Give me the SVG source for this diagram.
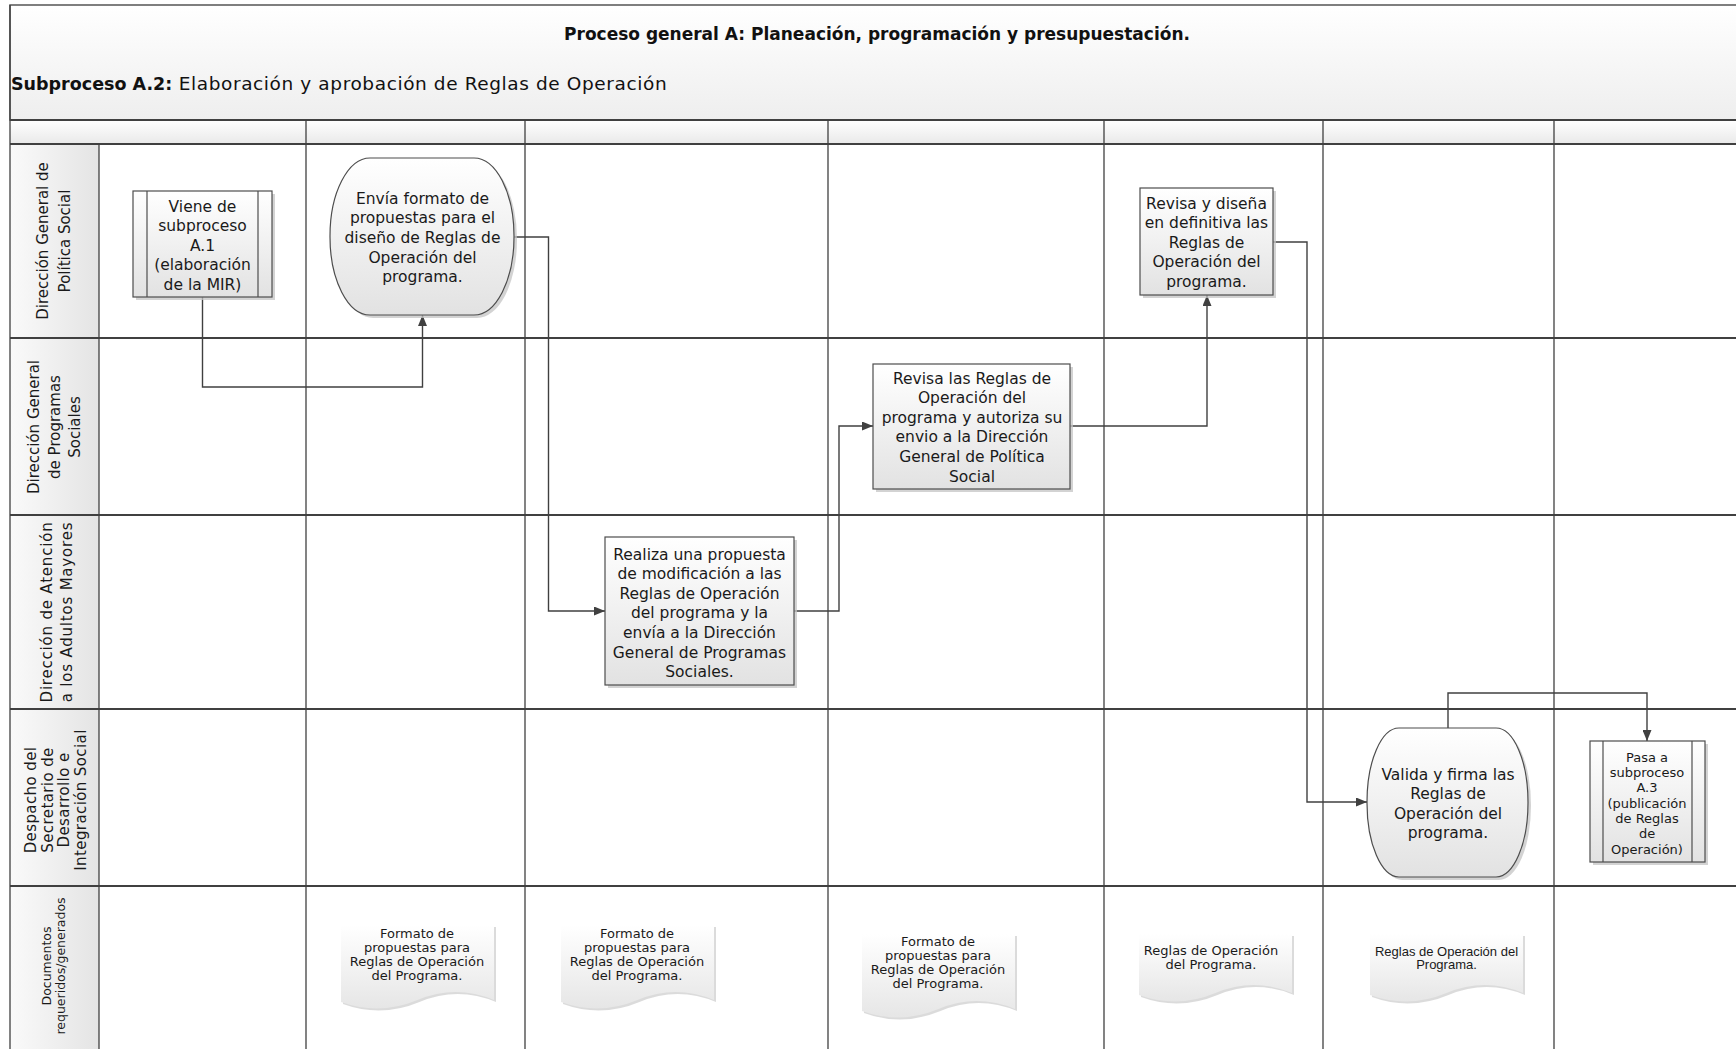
<svg xmlns="http://www.w3.org/2000/svg" width="1736" height="1049" viewBox="0 0 1736 1049">
<defs>
<linearGradient id="gHead" x1="0" y1="0" x2="0" y2="1"><stop offset="0" stop-color="#ffffff"/><stop offset="1" stop-color="#eeeeee"/></linearGradient>
<linearGradient id="gRow" x1="0" y1="0" x2="0" y2="1"><stop offset="0" stop-color="#ffffff"/><stop offset="1" stop-color="#e9e9e9"/></linearGradient>
<linearGradient id="gLab" x1="0" y1="0" x2="1" y2="0"><stop offset="0" stop-color="#fafafa"/><stop offset="1" stop-color="#e4e4e4"/></linearGradient>
<linearGradient id="gNode" x1="0" y1="0" x2="0" y2="1"><stop offset="0" stop-color="#ffffff"/><stop offset="1" stop-color="#e2e2e2"/></linearGradient>
<linearGradient id="gDoc" x1="0" y1="0" x2="0" y2="1"><stop offset="0" stop-color="#ffffff"/><stop offset="1" stop-color="#e6e6e6"/></linearGradient>
<marker id="arr" markerUnits="userSpaceOnUse" markerWidth="11" markerHeight="9" refX="11" refY="4.5" orient="auto"><path d="M0,0 L11,4.5 L0,9 z" fill="#404040"/></marker>
</defs>
<style>
.lane{stroke:#404040;stroke-width:2.2;fill:none}
.col{stroke:#404040;stroke-width:1.3;fill:none}
.box{fill:url(#gNode);stroke:#4d4d4d;stroke-width:1.2}
.shd{fill:#c4c4c4;opacity:.75}
.doc{fill:url(#gDoc)}
.dshd{fill:#d2d2d2;opacity:.8}
.conn{fill:none;stroke:#404040;stroke-width:1.4}
.t{font-family:"DejaVu Sans",sans-serif;font-size:15.5px;fill:#1a1a1a;text-anchor:middle}
.ts{font-family:"DejaVu Sans",sans-serif;font-size:13px;fill:#1a1a1a;text-anchor:middle}
.td{font-family:"DejaVu Sans",sans-serif;font-size:13px;fill:#1a1a1a;text-anchor:middle}
.ta{font-family:"Liberation Sans",Arial,sans-serif;font-size:13px;fill:#1a1a1a;text-anchor:middle}
.tl{font-family:"DejaVu Sans",sans-serif;font-size:15px;fill:#1a1a1a;text-anchor:middle}
.tl2{font-family:"DejaVu Sans",sans-serif;font-size:12.5px;fill:#1a1a1a;text-anchor:middle}
</style>
<rect width="1736" height="1049" fill="#ffffff"/>
<g id="frame">
<rect x="10" y="5" width="1740" height="115" fill="url(#gHead)" stroke="#555555" stroke-width="1.5"/>
<rect x="10" y="120" width="1740" height="24" fill="url(#gRow)"/>
<rect x="10" y="144" width="89" height="910" fill="url(#gLab)"/>
<line class="lane" x1="10" y1="120" x2="1736" y2="120"/>
<line class="lane" x1="10" y1="144" x2="1736" y2="144"/>
<line class="lane" x1="10" y1="338" x2="1736" y2="338"/>
<line class="lane" x1="10" y1="515" x2="1736" y2="515"/>
<line class="lane" x1="10" y1="709" x2="1736" y2="709"/>
<line class="lane" x1="10" y1="886" x2="1736" y2="886"/>
<line class="col" x1="10" y1="5" x2="10" y2="1049" stroke-width="1.5"/>
<line class="col" x1="99" y1="144" x2="99" y2="1049"/>
<line class="col" x1="306" y1="120" x2="306" y2="1049"/>
<line class="col" x1="525" y1="120" x2="525" y2="1049"/>
<line class="col" x1="828" y1="120" x2="828" y2="1049"/>
<line class="col" x1="1104" y1="120" x2="1104" y2="1049"/>
<line class="col" x1="1323" y1="120" x2="1323" y2="1049"/>
<line class="col" x1="1554" y1="120" x2="1554" y2="1049"/>
<text x="877" y="40" font-family="DejaVu Sans, sans-serif" font-size="17" font-weight="bold" fill="#111" text-anchor="middle">Proceso general A: Planeación, programación y presupuestación.</text>
<text x="11" y="90" font-family="DejaVu Sans, sans-serif" font-size="17.5" fill="#111"><tspan font-weight="bold">Subproceso A.2:</tspan><tspan font-size="18.5" letter-spacing="0.6"> Elaboración y aprobación de Reglas de Operación</tspan></text>
</g>
<g id="lane-labels">
<text class="tl" transform="translate(0,241) rotate(-90)"><tspan x="0" y="48">Dirección General de</tspan><tspan x="0" y="70">Política Social</tspan></text>
<text class="tl" transform="translate(0,427) rotate(-90)"><tspan x="0" y="39">Dirección General</tspan><tspan x="0" y="60">de Programas</tspan><tspan x="0" y="80">Sociales</tspan></text>
<text class="tl" letter-spacing="0.8" transform="translate(0,612) rotate(-90)"><tspan x="0" y="52">Dirección de Atención</tspan><tspan x="0" y="72">a los Adultos Mayores</tspan></text>
<text class="tl" letter-spacing="0.4" transform="translate(0,800) rotate(-90)"><tspan x="0" y="36">Despacho del</tspan><tspan x="0" y="53">Secretario de</tspan><tspan x="0" y="69">Desarrollo e</tspan><tspan x="0" y="86">Integración Social</tspan></text>
<text class="tl2" transform="translate(0,966) rotate(-90)"><tspan x="0" y="50.5">Documentos</tspan><tspan x="0" y="64.5">requeridos/generados</tspan></text>
</g>
<g id="connectors">
<path class="conn" d="M202.5,297 V387 H422.5 V315" marker-end="url(#arr)"/>
<path class="conn" d="M514,237 H548.5 V611 H605" marker-end="url(#arr)"/>
<path class="conn" d="M794,611 H839 V426 H873" marker-end="url(#arr)"/>
<path class="conn" d="M1070,426 H1207 V295" marker-end="url(#arr)"/>
<path class="conn" d="M1273,242 H1307 V802 H1367" marker-end="url(#arr)"/>
<path class="conn" d="M1448,728 V693 H1647 V741" marker-end="url(#arr)"/>
</g>
<g id="n1">
<rect class="shd" x="136" y="194" width="139" height="106"/>
<rect class="box" x="133" y="191" width="139" height="106"/>
<line x1="147" y1="191" x2="147" y2="297" stroke="#4d4d4d" stroke-width="1.2"/>
<line x1="258" y1="191" x2="258" y2="297" stroke="#4d4d4d" stroke-width="1.2"/>
<text class="t"><tspan x="202.5" y="211.5">Viene de</tspan><tspan x="202.5" dy="19.5">subproceso</tspan><tspan x="202.5" dy="19.5">A.1</tspan><tspan x="202.5" dy="19.5">(elaboración</tspan><tspan x="202.5" dy="19.5">de la MIR)</tspan></text>
</g>
<g id="n2">
<rect class="shd" x="333" y="161" width="184" height="157" rx="40" ry="78"/>
<rect class="box" x="330" y="158" width="184" height="157" rx="40" ry="78"/>
<text class="t"><tspan x="422.5" y="203.5">Envía formato de</tspan><tspan x="422.5" dy="19.7">propuestas para el</tspan><tspan x="422.5" dy="19.7">diseño de Reglas de</tspan><tspan x="422.5" dy="19.7">Operación del</tspan><tspan x="422.5" dy="19.7">programa.</tspan></text>
</g>
<g id="n3">
<rect class="shd" x="608" y="540" width="189" height="148"/>
<rect class="box" x="605" y="537" width="189" height="148"/>
<text class="t"><tspan x="699.5" y="559.5">Realiza una propuesta</tspan><tspan x="699.5" dy="19.6">de modificación a las</tspan><tspan x="699.5" dy="19.6">Reglas de Operación</tspan><tspan x="699.5" dy="19.6">del programa y la</tspan><tspan x="699.5" dy="19.6">envía a la  Dirección</tspan><tspan x="699.5" dy="19.6">General de Programas</tspan><tspan x="699.5" dy="19.6">Sociales.</tspan></text>
</g>
<g id="n4">
<rect class="shd" x="876" y="367" width="197" height="125"/>
<rect class="box" x="873" y="364" width="197" height="125"/>
<text class="t"><tspan x="972" y="383.5">Revisa las Reglas de</tspan><tspan x="972" dy="19.6">Operación del</tspan><tspan x="972" dy="19.6">programa y autoriza su</tspan><tspan x="972" dy="19.6">envio a la Dirección</tspan><tspan x="972" dy="19.6">General de Política</tspan><tspan x="972" dy="19.6">Social</tspan></text>
</g>
<g id="n5">
<rect class="shd" x="1143" y="191" width="133" height="107"/>
<rect class="box" x="1140" y="188" width="133" height="107"/>
<text class="t"><tspan x="1206.5" y="208.5">Revisa y diseña</tspan><tspan x="1206.5" dy="19.5">en definitiva las</tspan><tspan x="1206.5" dy="19.5">Reglas de</tspan><tspan x="1206.5" dy="19.5">Operación del</tspan><tspan x="1206.5" dy="19.5">programa.</tspan></text>
</g>
<g id="n6">
<rect class="shd" x="1370" y="731" width="161" height="149" rx="32" ry="74"/>
<rect class="box" x="1367" y="728" width="161" height="149" rx="32" ry="74"/>
<text class="t"><tspan x="1448" y="779.5">Valida y firma las</tspan><tspan x="1448" dy="19.6">Reglas de</tspan><tspan x="1448" dy="19.6">Operación del</tspan><tspan x="1448" dy="19.6">programa.</tspan></text>
</g>
<g id="n7">
<rect class="shd" x="1593" y="744" width="115" height="121"/>
<rect class="box" x="1590" y="741" width="115" height="121"/>
<line x1="1603" y1="741" x2="1603" y2="862" stroke="#4d4d4d" stroke-width="1.2"/>
<line x1="1692" y1="741" x2="1692" y2="862" stroke="#4d4d4d" stroke-width="1.2"/>
<text class="ts"><tspan x="1647" y="761.7">Pasa a</tspan><tspan x="1647" dy="15.3">subproceso</tspan><tspan x="1647" dy="15.3">A.3</tspan><tspan x="1647" dy="15.3">(publicación</tspan><tspan x="1647" dy="15.3">de Reglas</tspan><tspan x="1647" dy="15.3">de</tspan><tspan x="1647" dy="15.3">Operación)</tspan></text>
</g>
<g id="d1">
<path class="dshd" d="M343,927 H496 V1002 Q457.75,986 419.5,1002 T343,1004 Z"/>
<path class="doc" d="M341,925 H494 V1000 Q455.75,984 417.5,1000 T341,1002 Z"/>
<text class="td"><tspan x="417" y="937.5">Formato de</tspan><tspan x="417" dy="14">propuestas para</tspan><tspan x="417" dy="14">Reglas de Operación</tspan><tspan x="417" dy="14">del Programa.</tspan></text>
</g>
<g id="d2">
<path class="dshd" d="M563,927 H716 V1002 Q677.75,986 639.5,1002 T563,1004 Z"/>
<path class="doc" d="M561,925 H714 V1000 Q675.75,984 637.5,1000 T561,1002 Z"/>
<text class="td"><tspan x="637" y="937.5">Formato de</tspan><tspan x="637" dy="14">propuestas para</tspan><tspan x="637" dy="14">Reglas de Operación</tspan><tspan x="637" dy="14">del Programa.</tspan></text>
</g>
<g id="d3">
<path class="dshd" d="M864,936 H1017 V1011 Q978.75,995 940.5,1011 T864,1013 Z"/>
<path class="doc" d="M862,934 H1015 V1009 Q976.75,993 938.5,1009 T862,1011 Z"/>
<text class="td"><tspan x="938" y="945.5">Formato de</tspan><tspan x="938" dy="14.3">propuestas para</tspan><tspan x="938" dy="14.3">Reglas de Operación</tspan><tspan x="938" dy="14.3">del Programa.</tspan></text>
</g>
<g id="d4">
<path class="dshd" d="M1141,936 H1294 V995 Q1255.75,979 1217.5,995 T1141,997 Z"/>
<path class="doc" d="M1139,934 H1292 V993 Q1253.75,977 1215.5,993 T1139,995 Z"/>
<text class="td"><tspan x="1211" y="954.5">Reglas de Operación</tspan><tspan x="1211" dy="14">del Programa.</tspan></text>
</g>
<g id="d5">
<path class="dshd" d="M1372,936 H1525 V995 Q1486.75,979 1448.5,995 T1372,997 Z"/>
<path class="doc" d="M1370,934 H1523 V993 Q1484.75,977 1446.5,993 T1370,995 Z"/>
<text class="ta"><tspan x="1446.5" y="955.5">Reglas de Operación del</tspan><tspan x="1446.5" dy="13">Programa.</tspan></text>
</g>
</svg>
